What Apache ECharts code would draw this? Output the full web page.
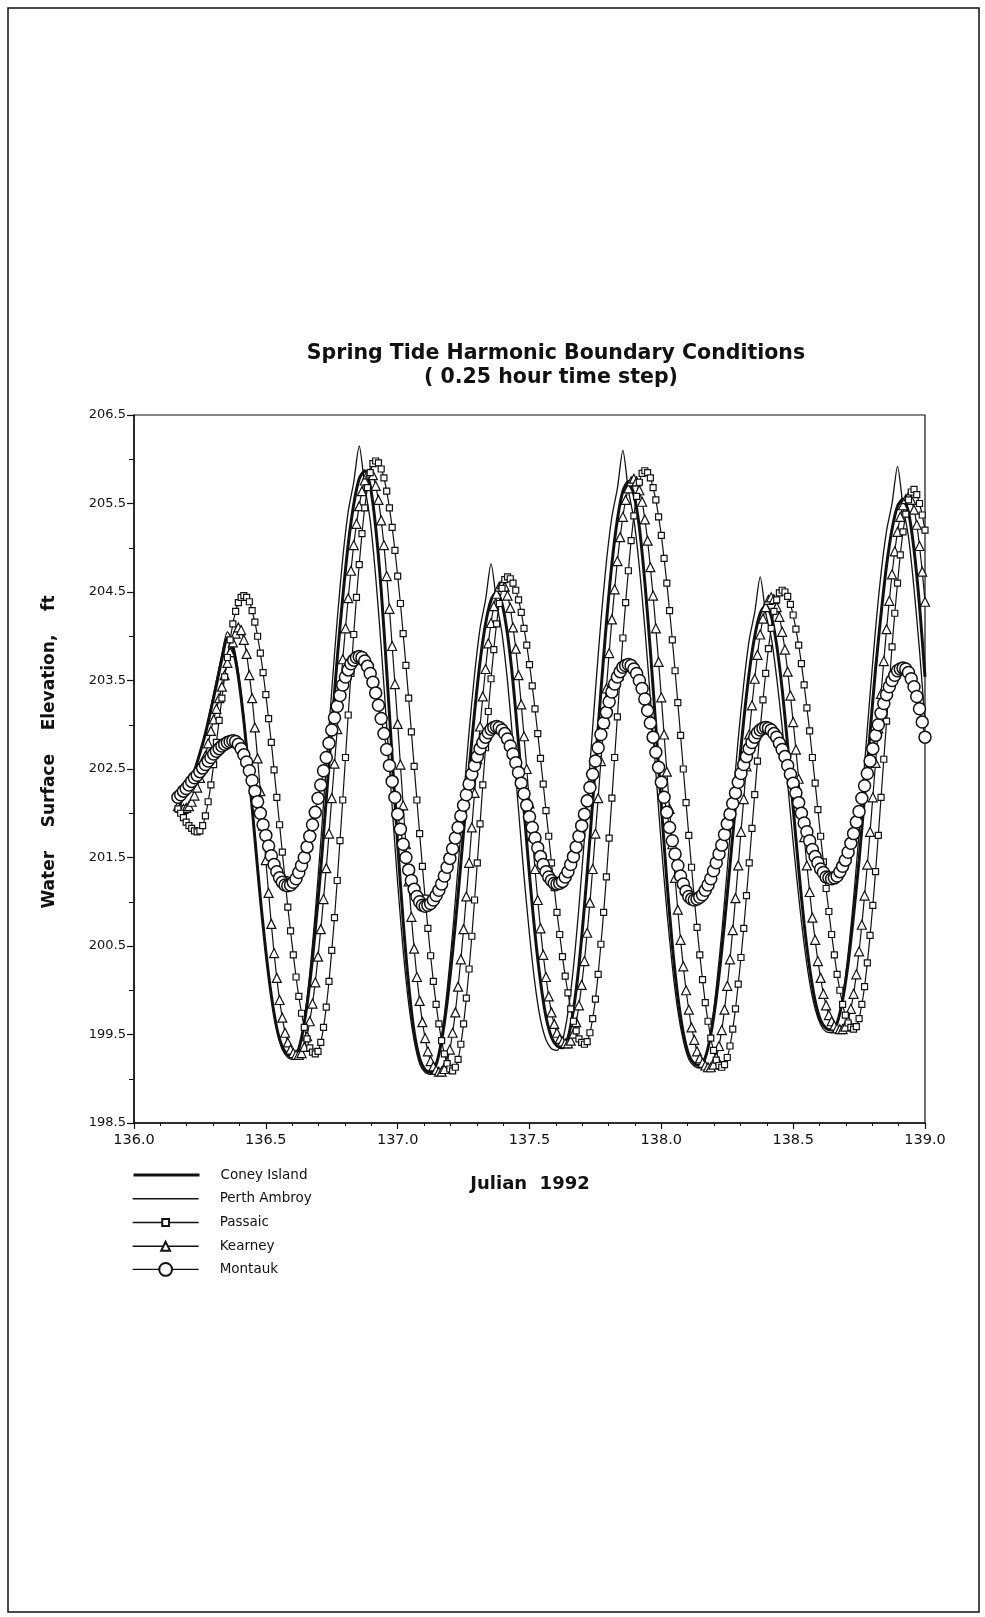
<!DOCTYPE html>
<html>
<head>
<meta charset="utf-8">
<title>Spring Tide Harmonic Boundary Conditions</title>
<script src="https://cdn.jsdelivr.net/npm/echarts@6/dist/echarts.min.js"></script>
<style>
  html, body { margin: 0; padding: 0; background: #fff; }
  #chart { width: 985px; height: 1617px; }
</style>
</head>
<body>
<div id="chart"></div>
<script>
// water surface elevation (ft), read off the plot from hour 4 of Julian day 136
// to the end of day 138. The two plain lines are read every half hour,
// the marked stations every quarter hour (one marker per time step).
const startDay = 136 + 4 / 24;
const lineStepDays = 0.5 / 24;
const markStepDays = 0.25 / 24;

const coneyIsland = [
  202.10, 202.20, 202.33, 202.48, 202.68, 202.90, 203.17, 203.45, 203.74, 203.98,
  203.86, 203.54, 203.04, 202.41, 201.72, 201.04, 200.44, 199.94, 199.57, 199.36,
  199.27, 199.25, 199.34, 199.63, 200.08, 200.68, 201.37, 202.16, 202.96, 203.75,
  204.44, 205.04, 205.49, 205.78, 205.87, 205.70, 205.23, 204.52, 203.61, 202.63,
  201.65, 200.78, 200.06, 199.53, 199.23, 199.10, 199.07, 199.16, 199.43, 199.86,
  200.43, 201.08, 201.79, 202.49, 203.14, 203.71, 204.14, 204.41, 204.50, 204.37,
  204.02, 203.48, 202.79, 202.04, 201.30, 200.64, 200.10, 199.70, 199.47, 199.37,
  199.35, 199.46, 199.78, 200.28, 200.95, 201.72, 202.55, 203.38, 204.15, 204.82,
  205.32, 205.64, 205.75, 205.60, 205.23, 204.61, 203.84, 202.98, 202.08, 201.24,
  200.51, 199.93, 199.52, 199.27, 199.17, 199.15, 199.24, 199.50, 199.91, 200.45,
  201.08, 201.75, 202.42, 203.05, 203.59, 204.00, 204.26, 204.35, 204.23, 203.90,
  203.40, 202.76, 202.06, 201.37, 200.75, 200.25, 199.88, 199.66, 199.57, 199.55,
  199.63, 199.89, 200.30, 200.85, 201.47, 202.19, 202.91, 203.63, 204.25, 204.80,
  205.21, 205.47, 205.55, 205.40, 204.98, 204.35, 203.54
];

const perthAmboy = [
  202.05, 202.16, 202.30, 202.47, 202.68, 202.92, 203.20, 203.50, 203.80, 204.05,
  203.93, 203.60, 203.09, 202.45, 201.75, 201.05, 200.43, 199.92, 199.55, 199.33,
  199.24, 199.22, 199.33, 199.66, 200.19, 200.88, 201.68, 202.54, 203.39, 204.19,
  204.88, 205.41, 205.74, 206.15, 205.70, 205.31, 204.67, 203.88, 202.99, 202.07,
  201.21, 200.45, 199.85, 199.43, 199.17, 199.07, 199.05, 199.16, 199.48, 200.00,
  200.65, 201.40, 202.17, 202.92, 203.57, 204.09, 204.41, 204.82, 204.39, 204.03,
  203.49, 202.79, 202.04, 201.29, 200.63, 200.07, 199.67, 199.44, 199.34, 199.32,
  199.43, 199.75, 200.26, 200.94, 201.72, 202.55, 203.38, 204.17, 204.84, 205.35,
  205.67, 206.10, 205.65, 205.32, 204.78, 204.09, 203.30, 202.46, 201.64, 200.90,
  200.27, 199.77, 199.43, 199.22, 199.14, 199.12, 199.22, 199.53, 200.03, 200.65,
  201.37, 202.12, 202.84, 203.46, 203.96, 204.27, 204.67, 204.26, 203.99, 203.53,
  202.97, 202.33, 201.67, 201.06, 200.52, 200.09, 199.79, 199.61, 199.53, 199.52,
  199.62, 199.93, 200.41, 201.04, 201.78, 202.56, 203.34, 204.08, 204.71, 205.19,
  205.50, 205.92, 205.47, 205.12, 204.54, 203.84, 203.04
];

const passaic = [
  202.05, 202.00, 201.95, 201.90, 201.86, 201.83, 201.80, 201.79, 201.80, 201.86,
  201.97, 202.13, 202.32, 202.55, 202.80, 203.05, 203.30, 203.54, 203.76, 203.96,
  204.14, 204.28, 204.38, 204.44, 204.46, 204.44, 204.39, 204.29, 204.16, 204.00,
  203.81, 203.59, 203.34, 203.07, 202.80, 202.49, 202.18, 201.87, 201.56, 201.25,
  200.94, 200.67, 200.40, 200.15, 199.93, 199.74, 199.58, 199.45, 199.35, 199.30,
  199.28, 199.31, 199.41, 199.58, 199.81, 200.10, 200.45, 200.82, 201.24, 201.69,
  202.15, 202.63, 203.11, 203.58, 204.02, 204.44, 204.81, 205.16, 205.45, 205.68,
  205.85, 205.95, 205.98, 205.96, 205.89, 205.79, 205.64, 205.45, 205.23, 204.97,
  204.68, 204.37, 204.03, 203.67, 203.30, 202.92, 202.53, 202.15, 201.77, 201.40,
  201.04, 200.70, 200.39, 200.10, 199.84, 199.62, 199.43, 199.28, 199.17, 199.11,
  199.09, 199.13, 199.22, 199.39, 199.62, 199.91, 200.24, 200.61, 201.02, 201.44,
  201.88, 202.32, 202.74, 203.15, 203.52, 203.85, 204.14, 204.37, 204.54, 204.64,
  204.67, 204.65, 204.60, 204.52, 204.41, 204.27, 204.09, 203.90, 203.68, 203.44,
  203.18, 202.90, 202.62, 202.33, 202.03, 201.74, 201.44, 201.16, 200.88, 200.63,
  200.38, 200.16, 199.97, 199.79, 199.65, 199.54, 199.45, 199.41, 199.39, 199.42,
  199.52, 199.68, 199.90, 200.18, 200.52, 200.88, 201.28, 201.72, 202.17, 202.63,
  203.09, 203.54, 203.98, 204.38, 204.74, 205.08, 205.36, 205.58, 205.74, 205.84,
  205.87, 205.85, 205.79, 205.68, 205.54, 205.35, 205.14, 204.88, 204.60, 204.29,
  203.96, 203.61, 203.25, 202.88, 202.50, 202.12, 201.75, 201.39, 201.04, 200.71,
  200.40, 200.12, 199.86, 199.65, 199.46, 199.32, 199.21, 199.15, 199.13, 199.16,
  199.24, 199.37, 199.56, 199.79, 200.07, 200.37, 200.70, 201.07, 201.44, 201.83,
  202.21, 202.59, 202.95, 203.28, 203.58, 203.86, 204.09, 204.28, 204.41, 204.49,
  204.52, 204.50, 204.45, 204.36, 204.24, 204.08, 203.90, 203.69, 203.45, 203.19,
  202.93, 202.63, 202.34, 202.04, 201.74, 201.45, 201.15, 200.89, 200.63, 200.40,
  200.18, 200.00, 199.84, 199.72, 199.63, 199.58, 199.56, 199.59, 199.68, 199.84,
  200.04, 200.31, 200.62, 200.96, 201.34, 201.75, 202.18, 202.61, 203.04, 203.47,
  203.88, 204.26, 204.60, 204.92, 205.18, 205.38, 205.54, 205.63, 205.66, 205.60,
  205.50, 205.37, 205.20
];

const kearney = [
  202.08, 202.06, 202.05, 202.06, 202.08, 202.13, 202.20, 202.29, 202.40, 202.52,
  202.65, 202.79, 202.93, 203.06, 203.18, 203.30, 203.43, 203.56, 203.70, 203.82,
  203.93, 204.03, 204.10, 204.07, 203.96, 203.80, 203.56, 203.30, 202.97, 202.62,
  202.25, 201.86, 201.47, 201.10, 200.75, 200.42, 200.14, 199.89, 199.69, 199.52,
  199.41, 199.33, 199.29, 199.27, 199.27, 199.29, 199.36, 199.48, 199.65, 199.85,
  200.09, 200.38, 200.69, 201.03, 201.38, 201.77, 202.17, 202.56, 202.95, 203.35,
  203.74, 204.09, 204.43, 204.74, 205.03, 205.27, 205.47, 205.64, 205.76, 205.83,
  205.85, 205.82, 205.70, 205.54, 205.31, 205.03, 204.68, 204.31, 203.89, 203.46,
  203.01, 202.55, 202.09, 201.65, 201.23, 200.83, 200.47, 200.15, 199.88, 199.64,
  199.46, 199.31, 199.20, 199.14, 199.10, 199.08, 199.08, 199.11, 199.19, 199.33,
  199.52, 199.75, 200.04, 200.35, 200.69, 201.06, 201.44, 201.84, 202.23, 202.61,
  202.98, 203.32, 203.63, 203.92, 204.15, 204.34, 204.48, 204.56, 204.59, 204.56,
  204.46, 204.32, 204.10, 203.86, 203.56, 203.23, 202.87, 202.50, 202.11, 201.74,
  201.37, 201.02, 200.70, 200.40, 200.15, 199.93, 199.75, 199.62, 199.52, 199.45,
  199.42, 199.40, 199.40, 199.43, 199.51, 199.64, 199.83, 200.06, 200.33, 200.65,
  200.99, 201.37, 201.77, 202.17, 202.59, 203.01, 203.41, 203.81, 204.19, 204.53,
  204.85, 205.12, 205.35, 205.54, 205.67, 205.75, 205.78, 205.75, 205.65, 205.52,
  205.32, 205.08, 204.78, 204.46, 204.09, 203.71, 203.31, 202.89, 202.47, 202.05,
  201.65, 201.27, 200.91, 200.57, 200.27, 200.00, 199.78, 199.58, 199.44, 199.31,
  199.23, 199.18, 199.15, 199.13, 199.13, 199.16, 199.24, 199.37, 199.55, 199.78,
  200.05, 200.35, 200.68, 201.04, 201.41, 201.79, 202.16, 202.53, 202.89, 203.22,
  203.52, 203.79, 204.02, 204.20, 204.33, 204.41, 204.44, 204.42, 204.33, 204.22,
  204.05, 203.85, 203.60, 203.33, 203.03, 202.72, 202.39, 202.06, 201.73, 201.41,
  201.11, 200.82, 200.57, 200.33, 200.14, 199.96, 199.83, 199.72, 199.65, 199.60,
  199.57, 199.56, 199.56, 199.59, 199.66, 199.79, 199.96, 200.18, 200.44, 200.74,
  201.07, 201.42, 201.79, 202.18, 202.57, 202.96, 203.35, 203.72, 204.08, 204.40,
  204.70, 204.96, 205.18, 205.35, 205.48, 205.55, 205.58, 205.54, 205.43, 205.26,
  205.02, 204.73, 204.39
];

const montauk = [
  202.18, 202.21, 202.25, 202.28, 202.32, 202.36, 202.40, 202.43, 202.47, 202.51,
  202.55, 202.59, 202.63, 202.67, 202.70, 202.73, 202.76, 202.78, 202.80, 202.81,
  202.82, 202.81, 202.78, 202.73, 202.66, 202.58, 202.48, 202.37, 202.25, 202.13,
  202.00, 201.87, 201.75, 201.63, 201.52, 201.42, 201.34, 201.27, 201.22, 201.19,
  201.18, 201.19, 201.22, 201.26, 201.33, 201.41, 201.50, 201.62, 201.74, 201.87,
  202.01, 202.17, 202.32, 202.48, 202.63, 202.79, 202.94, 203.08, 203.21, 203.33,
  203.45, 203.54, 203.62, 203.69, 203.73, 203.76, 203.77, 203.76, 203.72, 203.66,
  203.58, 203.48, 203.36, 203.22, 203.07, 202.90, 202.72, 202.54, 202.36, 202.18,
  201.99, 201.82, 201.65, 201.50, 201.36, 201.24, 201.14, 201.06, 201.00, 200.96,
  200.95, 200.96, 200.98, 201.02, 201.07, 201.13, 201.20, 201.29, 201.39, 201.49,
  201.60, 201.72, 201.84, 201.97, 202.09, 202.21, 202.33, 202.44, 202.54, 202.64,
  202.73, 202.80, 202.86, 202.91, 202.95, 202.97, 202.98, 202.97, 202.94, 202.90,
  202.84, 202.76, 202.67, 202.57, 202.46, 202.34, 202.22, 202.09, 201.96, 201.84,
  201.72, 201.61, 201.51, 201.42, 201.34, 201.28, 201.24, 201.21, 201.20, 201.21,
  201.23, 201.28, 201.34, 201.42, 201.51, 201.62, 201.74, 201.86, 201.99, 202.14,
  202.29, 202.44, 202.59, 202.74, 202.89, 203.02, 203.14, 203.26, 203.37, 203.46,
  203.54, 203.60, 203.65, 203.67, 203.68, 203.67, 203.63, 203.58, 203.50, 203.41,
  203.29, 203.16, 203.02, 202.86, 202.69, 202.52, 202.35, 202.18, 202.01, 201.84,
  201.69, 201.54, 201.41, 201.29, 201.20, 201.12, 201.06, 201.03, 201.02, 201.03,
  201.05, 201.08, 201.13, 201.19, 201.26, 201.35, 201.44, 201.54, 201.64, 201.76,
  201.88, 201.99, 202.11, 202.23, 202.35, 202.45, 202.55, 202.64, 202.73, 202.80,
  202.86, 202.91, 202.94, 202.96, 202.97, 202.96, 202.94, 202.90, 202.86, 202.79,
  202.72, 202.64, 202.54, 202.44, 202.34, 202.23, 202.12, 202.00, 201.89, 201.79,
  201.69, 201.59, 201.51, 201.44, 201.37, 201.33, 201.28, 201.27, 201.26, 201.27,
  201.29, 201.34, 201.40, 201.47, 201.56, 201.66, 201.77, 201.90, 202.02, 202.17,
  202.31, 202.45, 202.59, 202.73, 202.88, 203.00, 203.13, 203.24, 203.34, 203.43,
  203.50, 203.56, 203.61, 203.63, 203.64, 203.63, 203.59, 203.52, 203.43, 203.32,
  203.18, 203.03, 202.86
];

const legendNames = ['Coney Island', 'Perth Ambroy', 'Passaic', 'Kearney', 'Montauk'];

const xRange = [136, 139];
const yRange = [198.5, 206.5];

const ink = '#111';
const font = 'DejaVu Sans';

const toPairs = (vals, step) => vals.map((v, i) => [startDay + i * step, v]);

const plainLine = (name, vals, width) => ({
  name: name,
  type: 'line',
  data: toPairs(vals, lineStepDays),
  symbol: 'none',
  smooth: 0.25,
  lineStyle: {color: ink, width: width},
  itemStyle: {color: ink},
  emphasis: {disabled: true},
  silent: true
});

const markedLine = (name, vals, symbol, size, border) => ({
  name: name,
  type: 'line',
  data: toPairs(vals, markStepDays),
  symbol: symbol,
  symbolSize: size,
  showSymbol: true,
  smooth: 0.25,
  lineStyle: {color: ink, width: 1.2},
  itemStyle: {color: '#fff', borderColor: ink, borderWidth: border},
  emphasis: {disabled: true},
  silent: true
});

// one key row per station so each marker keeps its own size;
// the legend marker is drawn at 0.8 x itemHeight
const keyRows = [
  {lineWidth: 3, marker: false, itemHeight: 12},
  {lineWidth: 1.3, marker: false, itemHeight: 12},
  {lineWidth: 1.3, marker: true, itemHeight: 8.5},
  {lineWidth: 1.3, marker: true, itemHeight: 11},
  {lineWidth: 1.3, marker: true, itemHeight: 16}
];

const legends = legendNames.map((name, i) => {
  const row = keyRows[i];
  const center = 1175 + i * 23.75;
  const item = {name: name, lineStyle: {width: row.lineWidth, color: ink}};
  if (!row.marker) item.itemStyle = {opacity: 0};
  return {
    data: [item],
    orient: 'vertical',
    left: 132,
    top: center - Math.max(row.itemHeight, 14) / 2,
    padding: 0,
    itemWidth: 66,
    itemHeight: row.itemHeight,
    selectedMode: false,
    textStyle: {fontFamily: font, fontSize: 13.5, color: ink, padding: [0, 0, 0, 16]}
  };
});

const chart = echarts.init(document.getElementById('chart'), null, {renderer: 'canvas'});

chart.setOption({
  animation: false,
  backgroundColor: '#fff',
  grid: {
    left: 134, top: 415, width: 791, height: 708,
    show: true, borderColor: ink, borderWidth: 1.2, backgroundColor: 'transparent'
  },
  xAxis: {
    type: 'value',
    min: xRange[0], max: xRange[1], interval: 0.5,
    axisLine: {onZero: false, lineStyle: {color: ink, width: 1.5}},
    axisTick: {length: 6, lineStyle: {color: ink, width: 1.2}},
    minorTick: {show: true, splitNumber: 5, length: 3, lineStyle: {color: ink, width: 1}},
    splitLine: {show: false},
    axisLabel: {
      formatter: v => v.toFixed(1),
      fontFamily: font, fontSize: 14.5, color: ink, margin: 10
    }
  },
  yAxis: {
    type: 'value',
    min: yRange[0], max: yRange[1], interval: 1,
    axisLine: {onZero: false, lineStyle: {color: ink, width: 1.5}},
    axisTick: {length: 7, lineStyle: {color: ink, width: 1.2}},
    minorTick: {show: true, splitNumber: 2, length: 5, lineStyle: {color: ink, width: 1}},
    splitLine: {show: false},
    axisLabel: {
      formatter: v => v.toFixed(1),
      fontFamily: font, fontSize: 13, color: ink, margin: 8
    }
  },
  legend: legends,
  graphic: [
    {
      type: 'rect', silent: true,
      shape: {x: 8, y: 8, width: 971, height: 1604},
      style: {fill: null, stroke: ink, lineWidth: 1.5}
    },
    {
      type: 'text', x: 556, y: 354, silent: true,
      style: {
        text: 'Spring Tide Harmonic Boundary Conditions',
        font: 'bold 20.5px "DejaVu Sans"', fill: ink, align: 'center', verticalAlign: 'middle'
      }
    },
    {
      type: 'text', x: 551, y: 378, silent: true,
      style: {
        text: '( 0.25 hour time step)',
        font: 'bold 20.5px "DejaVu Sans"', fill: ink, align: 'center', verticalAlign: 'middle'
      }
    },
    {
      type: 'text', x: 50, y: 752, rotation: Math.PI / 2, silent: true,
      style: {
        text: 'Water    Surface    Elevation,    ft',
        font: 'bold 17px "DejaVu Sans"', fill: ink, align: 'center', verticalAlign: 'middle'
      }
    },
    {
      type: 'text', x: 530, y: 1184, silent: true,
      style: {
        text: 'Julian  1992',
        font: 'bold 18px "DejaVu Sans"', fill: ink, align: 'center', verticalAlign: 'middle'
      }
    }
  ],
  series: [
    plainLine('Coney Island', coneyIsland, 3),
    plainLine('Perth Ambroy', perthAmboy, 1.3),
    markedLine('Kearney', kearney, 'triangle', 9, 1.2),
    markedLine('Passaic', passaic, 'rect', 6, 1.2),
    markedLine('Montauk', montauk, 'circle', 12, 1.5)
  ]
});
</script>
</body>
</html>
